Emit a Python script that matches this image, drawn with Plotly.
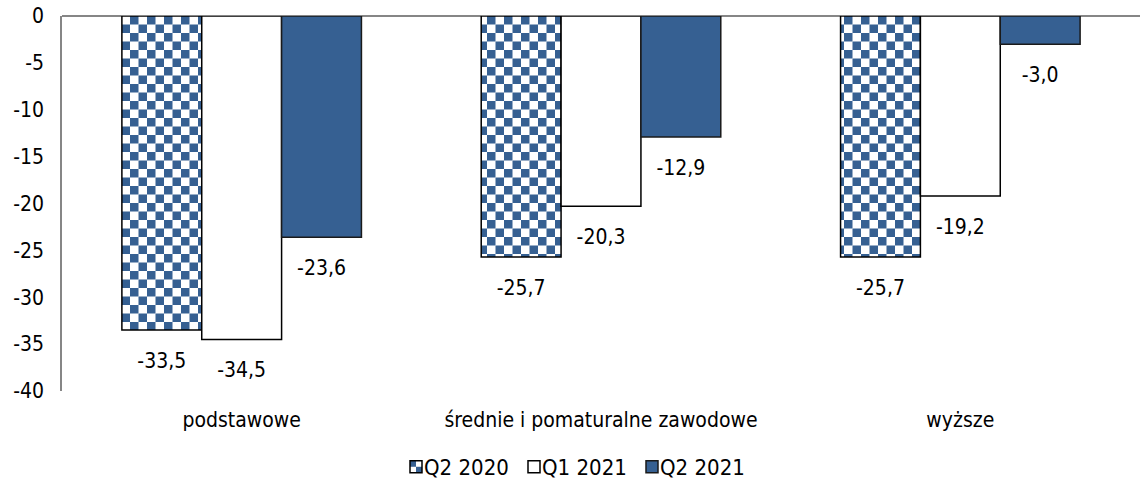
import plotly.graph_objects as go

categories = ["podstawowe", "średnie i pomaturalne zawodowe", "wyższe"]
q2_2020 = [-33.5, -25.7, -25.7]
q1_2021 = [-34.5, -20.3, -19.2]
q2_2021 = [-23.6, -12.9, -3.0]
series_names = ["Q2 2020", "Q1 2021", "Q2 2021"]
y_ticks = [0, -5, -10, -15, -20, -25, -30, -35, -40]
y_tick_labels = ["0", "-5", "-10", "-15", "-20", "-25", "-30", "-35", "-40"]

BLUE = "#366092"
FONT = "DejaVu Sans Condensed, DejaVu Sans"
FS = 21

fig = go.Figure()
fig.add_trace(go.Bar(
    x=categories, y=q2_2020, name=series_names[0],
    marker=dict(color="white", line=dict(color="black", width=1.5),
                pattern=dict(shape="+", fgcolor=BLUE, bgcolor="white", size=17, solidity=0.5)),
))
fig.add_trace(go.Bar(
    x=categories, y=q1_2021, name=series_names[1],
    marker=dict(color="white", line=dict(color="black", width=1.5)),
))
fig.add_trace(go.Bar(
    x=categories, y=q2_2021, name=series_names[2],
    marker=dict(color=BLUE, line=dict(color="#1a1a1a", width=1.5)),
))
for vals in (q2_2020, q1_2021, q2_2021):
    fig.add_trace(go.Scatter(
        x=categories, y=vals, mode="markers+text",
        text=[f"{v:.1f}".replace(".", ",") for v in vals],
        textposition="bottom center",
        textfont=dict(family=FONT, size=FS, color="black"),
        marker=dict(size=34, color="rgba(0,0,0,0)"),
        showlegend=False, hoverinfo="skip",
    ))

fig.update_layout(
    width=1140, height=490,
    margin=dict(l=62, r=0, t=16, b=99),
    paper_bgcolor="white", plot_bgcolor="white",
    barmode="group", bargap=1/3, bargroupgap=0,
    scattermode="group", scattergap=1/3,
    separators=",.",
    font=dict(family=FONT, size=FS, color="black"),
    showlegend=True,
    legend=dict(orientation="h", x=0.2987, xanchor="left",
                yref="container", y=0.047, yanchor="middle",
                entrywidth=73, entrywidthmode="pixels",
                font=dict(family=FONT, size=22, color="black"), traceorder="normal"),
    xaxis=dict(showline=False, ticks="", showgrid=False, ticklabelstandoff=14),
    yaxis=dict(range=[-40, 0], tickvals=y_ticks, ticktext=y_tick_labels, showgrid=False,
               showline=True, linecolor="#868686", linewidth=1.5,
               zeroline=True, zerolinecolor="#868686", zerolinewidth=1.5,
               ticks="", ticklabelstandoff=12),
)

post = """
document.body.style.margin = '0';
document.body.style.overflow = 'hidden';
var gd = document.getElementById('{plot_id}');
gd.querySelectorAll('.legend .scrollbox').forEach(function(e){ e.removeAttribute('clip-path'); });
gd.querySelectorAll('.legend .legendsymbols').forEach(function(e){
  var t = e.getAttribute('transform') || '';
  e.setAttribute('transform', t + ' translate(12,0)');
});
var ns = 'http://www.w3.org/2000/svg';
var pats = gd.querySelectorAll('pattern');
pats.forEach(function(p){
  var s = 17;
  p.setAttribute('width', s); p.setAttribute('height', s);
  p.setAttribute('patternUnits', 'userSpaceOnUse');
  while (p.firstChild) { p.removeChild(p.firstChild); }
  function r(x, y, w, h, c) {
    var e = document.createElementNS(ns, 'rect');
    e.setAttribute('x', x); e.setAttribute('y', y);
    e.setAttribute('width', w); e.setAttribute('height', h);
    e.setAttribute('fill', c);
    p.appendChild(e);
  }
  r(0, 0, s, s, '#ffffff');
  r(0, 0, s/2, s/2, '#366092');
  r(s/2, s/2, s/2, s/2, '#366092');
});
"""
fig.write_html("out.html", post_script=post,
               config={"responsive": False, "displayModeBar": False})
